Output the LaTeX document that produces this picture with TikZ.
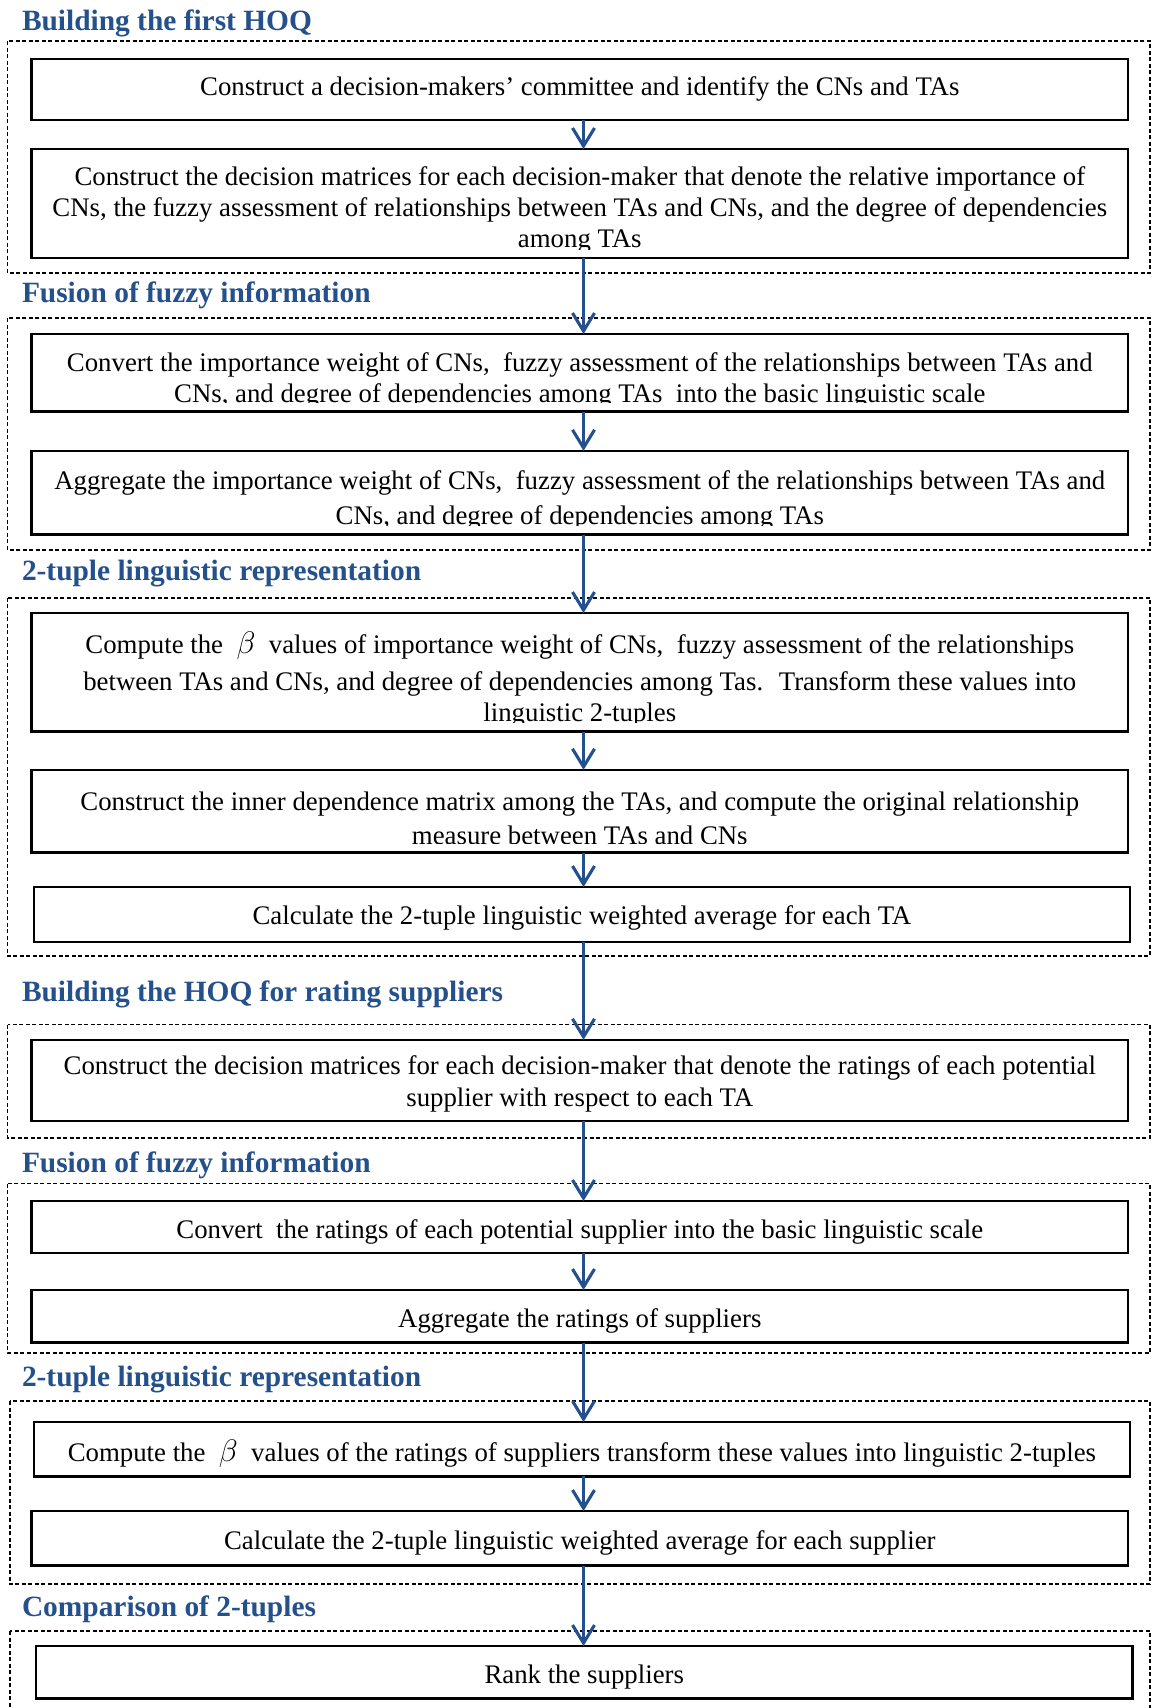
\documentclass[tikz,border=0pt]{standalone}
\usepackage{fontspec}
\setmainfont{Liberation Serif}
\usetikzlibrary{arrows.meta}
\definecolor{flowblue}{RGB}{36,80,140}
\tikzset{
  stepbox/.style={draw=black, line width=2.5pt, inner sep=0pt, outer sep=0pt, anchor=north west},
  steptext/.style={align=center, inner sep=0pt},
  grouptitle/.style={anchor=west, inner sep=0pt, text=flowblue, font=\fontsize{29.4}{35}\selectfont\bfseries},
  groupframe/.style={draw=black, line width=1.4pt, dash pattern=on 4pt off 2.5pt},
  flow/.style={draw=flowblue, line width=3.1pt, -{Straight Barb[length=18pt,width=22pt]}},
}
\newcommand\bigbeta{\scalebox{1.25}{$\beta$}}
% #1 name, #2-#5 box corners, #6 text centre y, #7 line spacing, #8 text
\newcommand\procbox[8]{%
  \node[stepbox, minimum width={#4-#2}, minimum height={#5-#3}] (#1) at (#2,#3) {};
  \begin{scope}
    \clip ({#2+2},{#3+2}) rectangle ({#4-2},{#5-9});
    \node[steptext, font=\fontsize{26.8}{#7}\selectfont] at ({(#2+#4)/2},{#6+3.5}) {#8};
  \end{scope}}
\begin{document}
\begin{tikzpicture}[x=1pt, y=-1pt]
\path[use as bounding box, fill=white] (0,0) rectangle (1152,1708);

% group frames
\draw[groupframe] (7.6,41) rectangle (1150,273);
\draw[groupframe] (7.6,318) rectangle (1150,550);
\draw[groupframe] (7.6,597.8) rectangle (1150,956);
\draw[groupframe] (7.6,1024.6) rectangle (1150,1138);
\draw[groupframe] (7.6,1183.6) rectangle (1150,1353);
\draw[groupframe] (9.8,1401) rectangle (1150,1584);
\draw[groupframe] (9.8,1631) rectangle (1150,1740);

% group titles
\node[grouptitle] (h1) at (21.8,23) {Building the first HOQ};
\node[grouptitle] (h2) at (21.8,295.3) {Fusion of fuzzy information};
\node[grouptitle] (h3) at (21.8,574) {2-tuple linguistic representation};
\node[grouptitle] (h4) at (21.8,994.3) {Building the HOQ for rating suppliers};
\node[grouptitle] (h5) at (21.8,1165.3) {Fusion of fuzzy information};
\node[grouptitle] (h6) at (21.8,1379.5) {2-tuple linguistic representation};
\node[grouptitle] (h7) at (21.8,1609.5) {Comparison of 2-tuples};

% process steps
\procbox{b1}{31.6}{58.8}{1128}{119.8}{85}{31}
  {Construct a decision-makers’ committee and identify the CNs and TAs}
\procbox{b2}{31.6}{149}{1128}{258}{206}{31}
  {Construct the decision matrices for each decision-maker that denote the relative importance of\\
   CNs, the fuzzy assessment of relationships between TAs and CNs, and the degree of dependencies\\
   among TAs}
\procbox{b3}{31.6}{334}{1128}{411.6}{377}{30.5}
  {Convert the importance weight of CNs,~ fuzzy assessment of the relationships between TAs and\\
   CNs, and degree of dependencies among TAs~ into the basic linguistic scale}
\procbox{b4}{31.6}{450.8}{1128}{534.6}{496.5}{35}
  {Aggregate the importance weight of CNs,~ fuzzy assessment of the relationships between TAs and\\
   CNs, and degree of dependencies among TAs}
\procbox{b5}{31.6}{613}{1128}{731.7}{676}{31}
  {Compute the\enspace\bigbeta\enspace values of importance weight of CNs,~ fuzzy assessment of the relationships\\[6pt]
   between TAs and CNs, and degree of dependencies among Tas.~ Transform these values into\\
   linguistic 2-tuples}
\procbox{b6}{31.6}{769.8}{1128}{852.5}{815}{34}
  {Construct the inner dependence matrix among the TAs, and compute the original relationship\\
   measure between TAs and CNs}
\procbox{b7}{33.8}{887}{1130}{942}{914.6}{31}
  {Calculate the 2-tuple linguistic weighted average for each TA}
\procbox{b8}{31.6}{1039.8}{1128}{1121}{1080.5}{31.6}
  {Construct the decision matrices for each decision-maker that denote the ratings of each potential\\
   supplier with respect to each TA}
\procbox{b9}{31.6}{1201}{1128}{1253}{1228}{31}
  {Convert~ the ratings of each potential supplier into the basic linguistic scale}
\procbox{b10}{31.6}{1290}{1128}{1342.5}{1317.5}{31}
  {Aggregate the ratings of suppliers}
\procbox{b11}{33.8}{1422}{1130}{1476.4}{1450}{31}
  {Compute the\enspace\bigbeta\enspace values of the ratings of suppliers transform these values into linguistic 2-tuples}
\procbox{b12}{31.6}{1511}{1128}{1565.7}{1539.6}{31}
  {Calculate the 2-tuple linguistic weighted average for each supplier}
\procbox{b13}{36}{1646}{1132.5}{1698.5}{1673.5}{31}
  {Rank the suppliers}

% flow connectors
\coordinate (axis) at (583.5,0);
\foreach \a/\b in {b1/b2,b2/b3,b3/b4,b4/b5,b5/b6,b6/b7,b7/b8,b8/b9,b9/b10,b10/b11,b11/b12,b12/b13}
  \draw[flow] (\a.south -| axis) -- (\b.north -| axis);
\end{tikzpicture}
\end{document}
